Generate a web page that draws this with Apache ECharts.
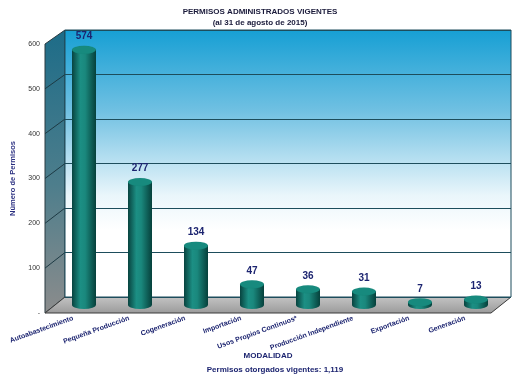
<!DOCTYPE html>
<html><head><meta charset="utf-8">
<script src="https://cdn.jsdelivr.net/npm/echarts@6/dist/echarts.min.js"></script>
<style>html,body{margin:0;padding:0;background:#fff}#c{width:520px;height:374px}</style>
</head><body><div id="c"></div>
<script>
var categories = ['Autoabastecimiento','Pequeña Producción','Cogeneración','Importación','Usos Propios Continuos*','Producción Independiente','Exportación','Generación'];
var values = [574, 277, 134, 47, 36, 31, 7, 13];
var yTicks = [0, 100, 200, 300, 400, 500, 600];
var titleText = 'PERMISOS ADMINISTRADOS VIGENTES';
var subtitleText = '(al 31 de agosto de 2015)';
var yName = 'Número de Permisos';
var xName = 'MODALIDAD';
var footText = 'Permisos otorgados vigentes: 1,119';

var FONT = 'Liberation Sans, Arial, sans-serif';
var NAVY = '#1c2470';
var chart = echarts.init(document.getElementById('c'), null, {renderer:'canvas'});
var yMax = yTicks[yTicks.length-1];
var yInt = yTicks[1]-yTicks[0];

var barGrad = new echarts.graphic.LinearGradient(0,0,1,0,[
  {offset:0,color:'#08433f'},{offset:0.35,color:'#1c8f84'},{offset:0.55,color:'#1a887d'},{offset:1,color:'#06403b'}]);

var option = {
  animation:false,
  backgroundColor:'#fff',
  title:[
    {text:titleText, left:'center', top:3, textStyle:{fontFamily:FONT,fontSize:8,fontWeight:'bold',color:'#1a1a3a'}},
    {text:subtitleText, left:'center', top:14, textStyle:{fontFamily:FONT,fontSize:8,fontWeight:'bold',color:'#1a1a3a'}},
    {text:xName, left:263, top:347, textAlign:'center', textStyle:{fontFamily:FONT,fontSize:8,fontWeight:'bold',color:NAVY}},
    {text:footText, left:270, top:361, textAlign:'center', textStyle:{fontFamily:FONT,fontSize:8,fontWeight:'bold',color:NAVY}}
  ],
  grid:[
    {left:56, right:16, top:38, bottom:69},          // bars (mid depth)
    {left:65, right:9, top:30, bottom:77, show:true, z:0,
      backgroundColor:new echarts.graphic.LinearGradient(0,0,0,1,[
        {offset:0,color:'#169fd4'},{offset:0.3,color:'#6fc0e2'},{offset:0.62,color:'#eaf6fb'},{offset:0.75,color:'#ffffff'},{offset:1,color:'#ffffff'}]),
      borderColor:'#1d4d5c', borderWidth:1},       // back wall
    {left:45, right:27, top:44, bottom:61}          // front axis
  ],
  xAxis:[
    {gridIndex:0, type:'category', data:categories, show:false},
    {gridIndex:1, type:'value', min:0, max:1, show:false},
    {gridIndex:2, type:'category', data:categories, axisLine:{show:false}, axisTick:{show:false},
      axisLabel:{interval:0, rotate:20, margin:5, fontFamily:FONT, fontSize:7, fontWeight:'bold', color:'#1c2470'}}
  ],
  yAxis:[
    {gridIndex:0, type:'value', min:0, max:yMax, interval:yInt, show:false},
    {gridIndex:1, type:'value', min:0, max:yMax, interval:yInt, axisLabel:{show:false}, axisLine:{show:false}, axisTick:{show:false},
      splitLine:{show:true, lineStyle:{color:'#1d4d5c', width:1}}},
    {gridIndex:2, type:'value', min:0, max:yMax, interval:yInt, axisLine:{show:false}, axisTick:{show:false}, splitLine:{show:false},
      axisLabel:{margin:5, fontFamily:FONT, fontSize:7, color:'#333', formatter:function(v){return v===0?'-':String(v);}},
      name:yName, nameLocation:'middle', nameGap:26, nameRotate:90,
      nameTextStyle:{fontFamily:FONT, fontSize:7.5, fontWeight:'bold', color:'#2a2f80'}}
  ],
  series:[
    {type:'pictorialBar', xAxisIndex:0, yAxisIndex:0, data:values, symbol:'circle', symbolSize:[24,8],
      symbolPosition:'start', symbolOffset:[0,'50%'], barWidth:24, barGap:'-100%', z:3,
      itemStyle:{color:barGrad}},
    {type:'bar', xAxisIndex:0, yAxisIndex:0, data:values, barWidth:24, barGap:'-100%', z:4,
      itemStyle:{color:barGrad},
      label:{show:true, position:'top', distance:8, fontFamily:FONT, fontSize:10, fontWeight:'bold', color:NAVY}},
    {type:'pictorialBar', xAxisIndex:0, yAxisIndex:0, data:values, symbol:'circle', symbolSize:[24,8],
      symbolPosition:'end', symbolOffset:[0,'-50%'], barWidth:24, barGap:'-100%', z:5,
      itemStyle:{color:'#178a7e', borderColor:'#0a4c46', borderWidth:1}}
  ]
};
chart.setOption(option);

// decorations: side wall, floor, slanted side gridlines, from the axes
var els = [];
function fp(v){ return chart.convertToPixel({xAxisIndex:2, yAxisIndex:2}, [0, v]); }
function bp(v){ return chart.convertToPixel({xAxisIndex:1, yAxisIndex:1}, [0, v]); }
function bpr(v){ return chart.convertToPixel({xAxisIndex:1, yAxisIndex:1}, [1, v]); }
var fx = 45;
var f0 = fp(0)[1], fTop = fp(yMax)[1];
var b0 = bp(0), bTop = bp(yMax), bR0 = bpr(0);
els.push({type:'polygon', z:-1, shape:{points:[[fx,f0],[fx,fTop],[bTop[0],bTop[1]],[b0[0],b0[1]]]},
  style:{fill:new echarts.graphic.LinearGradient(0,0,0,1,[{offset:0,color:'#1d6c88'},{offset:0.55,color:'#4e7e8c'},{offset:1,color:'#8c8c8c'}]), stroke:'#2a3a40', lineWidth:1}});
var frontRight = bR0[0] - (b0[0]-fx);
els.push({type:'polygon', z:-1, shape:{points:[[fx,f0],[b0[0],b0[1]],[bR0[0],bR0[1]],[frontRight,f0]]},
  style:{fill:new echarts.graphic.LinearGradient(0,0,0,1,[{offset:0,color:'#c4c4c4'},{offset:1,color:'#9a9a9a'}]), stroke:'#3a3a3a', lineWidth:1}});
for (var i=1;i<yTicks.length-1;i++){
  var a = fp(yTicks[i]), b = bp(yTicks[i]);
  els.push({type:'line', z:-1, shape:{x1:fx,y1:a[1],x2:b[0],y2:b[1]}, style:{stroke:'#1d3a44', lineWidth:1}});
}
chart.setOption({graphic:{elements:els}});
</script>
</body></html>
